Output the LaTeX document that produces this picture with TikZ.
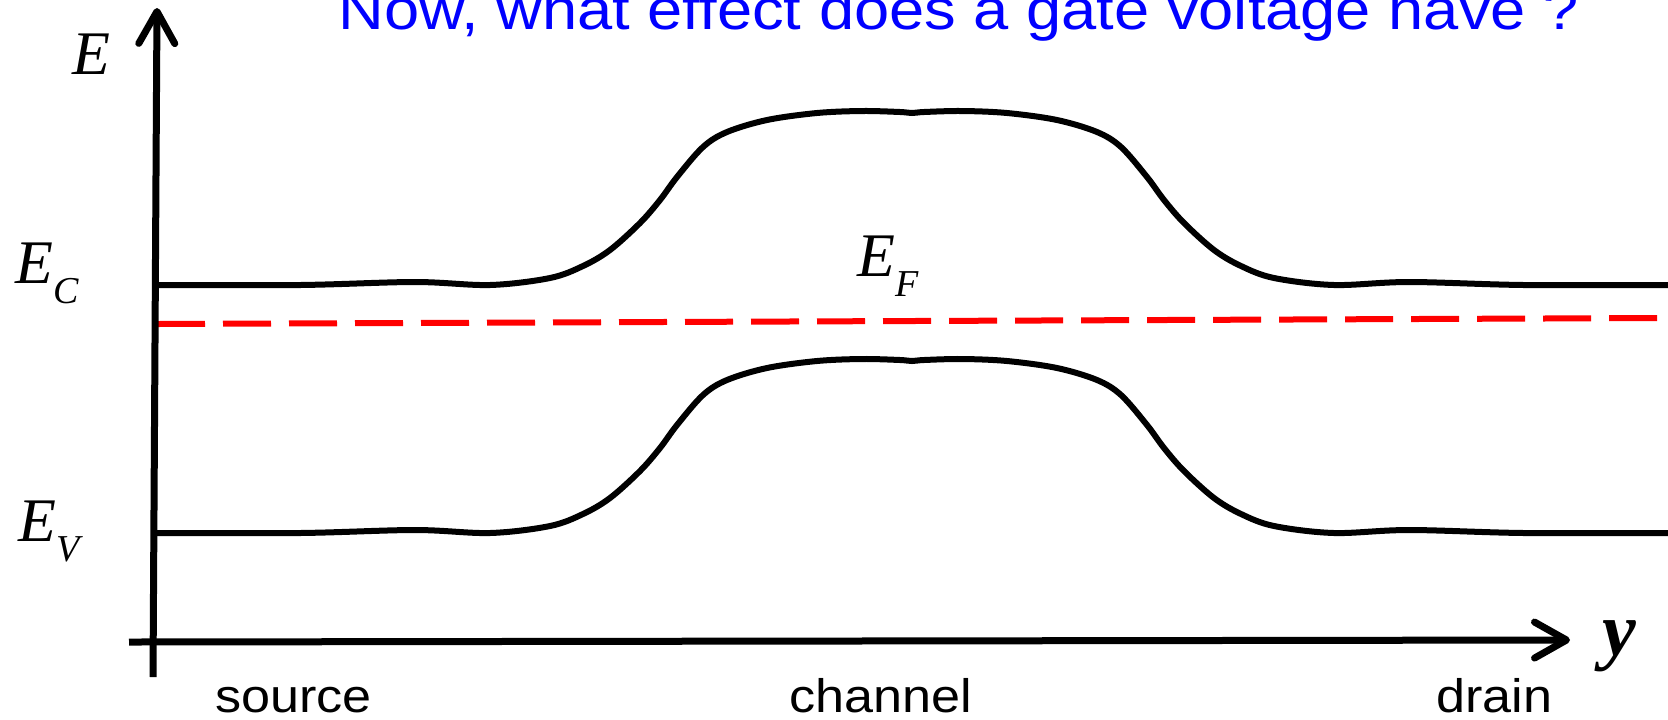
\documentclass[tikz,border=0pt]{standalone}
\usepackage{fontspec}
\setmainfont{Liberation Serif}
\newfontfamily\arialf{Liberation Sans}
\usetikzlibrary{arrows.meta}
\definecolor{titleblue}{RGB}{0,0,255}
\definecolor{efred}{RGB}{255,0,0}
\begin{document}
\begin{tikzpicture}[x=0.5pt,y=-0.5pt,
  axis/.style={line width=3.5pt,-{Straight Barb[length=16pt,width=18pt,line width=3.5pt,line cap=round,line join=round]}},
  band/.style={line width=3pt,black},
  fermi/.style={line width=3pt,efred,dash pattern=on 24pt off 9pt},
  sym/.style={anchor=base west,inner sep=0pt,font=\fontsize{31pt}{31pt}\selectfont\itshape},
  region/.style={anchor=base west,inner sep=0pt,font=\arialf\fontsize{23.5pt}{23.5pt}\selectfont},
  ttl/.style={anchor=base west,inner sep=0pt,text=titleblue,font=\arialf\fontsize{28.5pt}{28.5pt}\selectfont}]
\useasboundingbox (0,0) rectangle (1668,719);
\def\bandcurve{plot[smooth,tension=0.55] coordinates {(157,285) (300,285) (415,282) (490,285) (550,278) (583,266) (610,250) (640,223) (660,200) (677,177) (703,147) (727,132) (767,120) (817,113) (862,111) (900,112) (912,113) (924,112) (962,111) (1007,113) (1057,120) (1097,132) (1121,147) (1147,177) (1164,200) (1184,223) (1214,250) (1241,266) (1274,278) (1334,285) (1409,282) (1524,285) (1668,285)}}
% title
\node[ttl] (title) at (338,29) {\scalebox{1.11}[1]{Now, what effect does a gate voltage have ?}};
% bands
\draw[band] \bandcurve;
\draw[band,shift={(0,248)}] \bandcurve;
% Fermi level
\coordinate (efl) at (157,324);
\coordinate (efr) at (1668,318);
\draw[fermi] (efl) -- (efr);
% axes
\coordinate (yb) at (153,677);
\coordinate (yt) at (157,8);
\coordinate (xl) at (129,642);
\coordinate (xr) at (1570,640);
\draw[axis] (yb) -- (yt);
\draw[axis] (xl) -- (xr);
% labels
\node[sym] (E) at (72,74) {E};
\node[sym] (EC) at (15,283) {E\raisebox{-10pt}{\fontsize{19pt}{19pt}\selectfont C}};
\node[sym] (EV) at (18,541) {E\raisebox{-10pt}{\fontsize{19pt}{19pt}\selectfont V}};
\node[sym] (EF) at (857,276) {E\raisebox{-10pt}{\fontsize{19pt}{19pt}\selectfont F}};
\node[sym,font=\fontsize{38pt}{38pt}\selectfont\bfseries\itshape] (ylab) at (1602,655) {y};
\node[region] (source) at (215,712) {\scalebox{1.11}[1]{source}};
\node[region] (channel) at (789,712) {\scalebox{1.11}[1]{channel}};
\node[region] (drain) at (1436,712) {\scalebox{1.11}[1]{drain}};
\end{tikzpicture}
\end{document}
